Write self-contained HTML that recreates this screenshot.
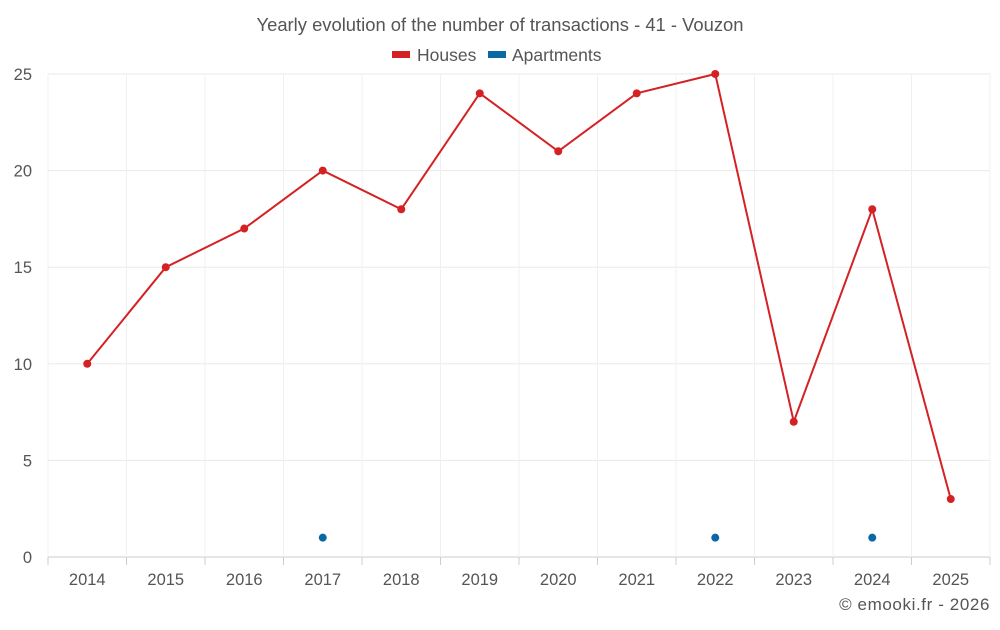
<!DOCTYPE html>
<html><head><meta charset="utf-8"><style>
body{margin:0;background:#fff;font-family:"Liberation Sans",sans-serif;}
svg text{font-family:"Liberation Sans",sans-serif;}
</style></head><body>
<svg id="chart" width="1000" height="625">
<text x="500" y="31" text-anchor="middle" font-size="18.4" fill="#555">Yearly evolution of the number of transactions - 41 - Vouzon</text>
<g><rect x="392" y="51" width="18" height="7" fill="#d42224"/><text x="417" y="61" font-size="17.5" fill="#555">Houses</text></g>
<g><rect x="488" y="51" width="18" height="7" fill="#0a69a4"/><text x="512" y="61" font-size="17.5" fill="#555">Apartments</text></g>
<g id="grid"></g><g id="axes"></g><g id="marks"></g>
<text x="990" y="610" text-anchor="end" font-size="17" letter-spacing="0.6" fill="#555">© emooki.fr - 2026</text>
</svg>
<script>
const years=[2014,2015,2016,2017,2018,2019,2020,2021,2022,2023,2024,2025];
const houses=[10,15,17,20,18,24,21,24,25,7,18,3];
const apartments=[null,null,null,1,null,null,null,null,1,null,1,null];
const yTicks=[0,5,10,15,20,25];
const NS="http://www.w3.org/2000/svg";
const L=48,R=990,T=74,B=557,yMax=25;
const bw=(R-L)/years.length;
const x=i=>L+bw*(i+0.5);
const y=v=>B-(v/yMax)*(B-T);
function mk(tag,attrs,parent){const e=document.createElementNS(NS,tag);for(const k in attrs)e.setAttribute(k,attrs[k]);document.getElementById(parent).appendChild(e);return e;}
yTicks.forEach(t=>{
 const ln=mk('line',{x1:L,x2:R,y1:y(t),y2:y(t),stroke:t===0?'#ccc':'#eaeaea'},'grid');
 
 
 const tx=mk('text',{x:32,y:y(t)+6,'text-anchor':'end','font-size':16.5,fill:'#555'},'axes');
 tx.textContent=t;
 
 
});
for(let i=0;i<=years.length;i++){
 const xx=L+bw*i;
 const g=mk('line',{x1:xx,x2:xx,y1:T,y2:B,stroke:'#f0f0f0'},'grid');
 
 
 const tk=mk('line',{x1:xx,x2:xx,y1:B,y2:B+8,stroke:'#ccc'},'axes');
 
 
}
years.forEach((yr,i)=>{
 const tx=mk('text',{x:x(i),y:585,'text-anchor':'middle','font-size':16.5,fill:'#555'},'axes');
 tx.textContent=yr;
 
 
});
const pl=mk('polyline',{points:houses.map((v,i)=>x(i)+','+y(v)).join(' '),fill:'none',stroke:'#d42224','stroke-width':2},'marks');


houses.forEach((v,i)=>{
 const c=mk('circle',{cx:x(i),cy:y(v),r:4,fill:'#d42224'},'marks');
 
 
});
apartments.forEach((v,i)=>{
 if(v===null)return;
 const c=mk('circle',{cx:x(i),cy:y(v),r:4,fill:'#0a69a4'},'marks');
 
 
});
</script>
</body></html>
